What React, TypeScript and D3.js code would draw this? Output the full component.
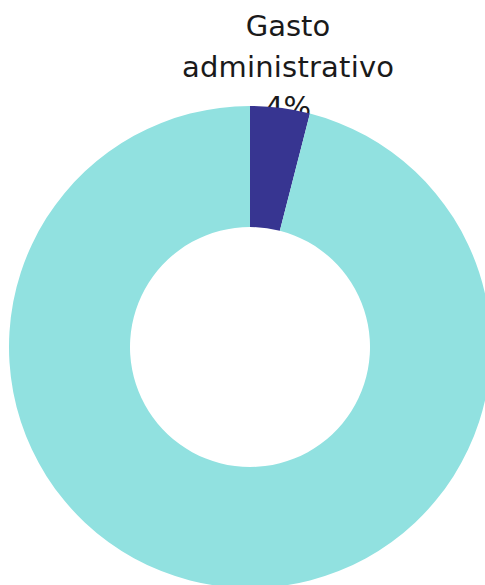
import React from "react";
import * as d3 from "d3";

const categories = ["Gasto administrativo", "Otros"];
const values = [4, 96];
const colors = ["#373591", "#91e1e0"];
const labelLines = [["Gasto", "administrativo", "4%"]];

export default function App() {
  const W = 485, H = 585;
  const cx = 250, cy = 347, outer = 241, inner = 120;
  const pie = d3.pie<number>().sort(null).value((d) => d)(values);
  const arc = d3.arc<d3.PieArcDatum<number>>().innerRadius(inner).outerRadius(outer);
  return (
    <svg width={W} height={H} style={{ position: "absolute", left: 0, top: 0, background: "#fff" }}>
      <g fontFamily="DejaVu Sans" fontSize={29} fill="#1a1a1a" textAnchor="middle">
        {labelLines[0].map((t, i) => (
          <text key={i} x={288} y={36 + i * 40.5} textLength={i === 1 ? 212 : undefined}>{t}</text>
        ))}
      </g>
      <g transform={`translate(${cx},${cy})`}>
        {pie.map((p, i) => (
          <path key={categories[i]} d={arc(p) || ""} fill={colors[i]} />
        ))}
      </g>
    </svg>
  );
}
